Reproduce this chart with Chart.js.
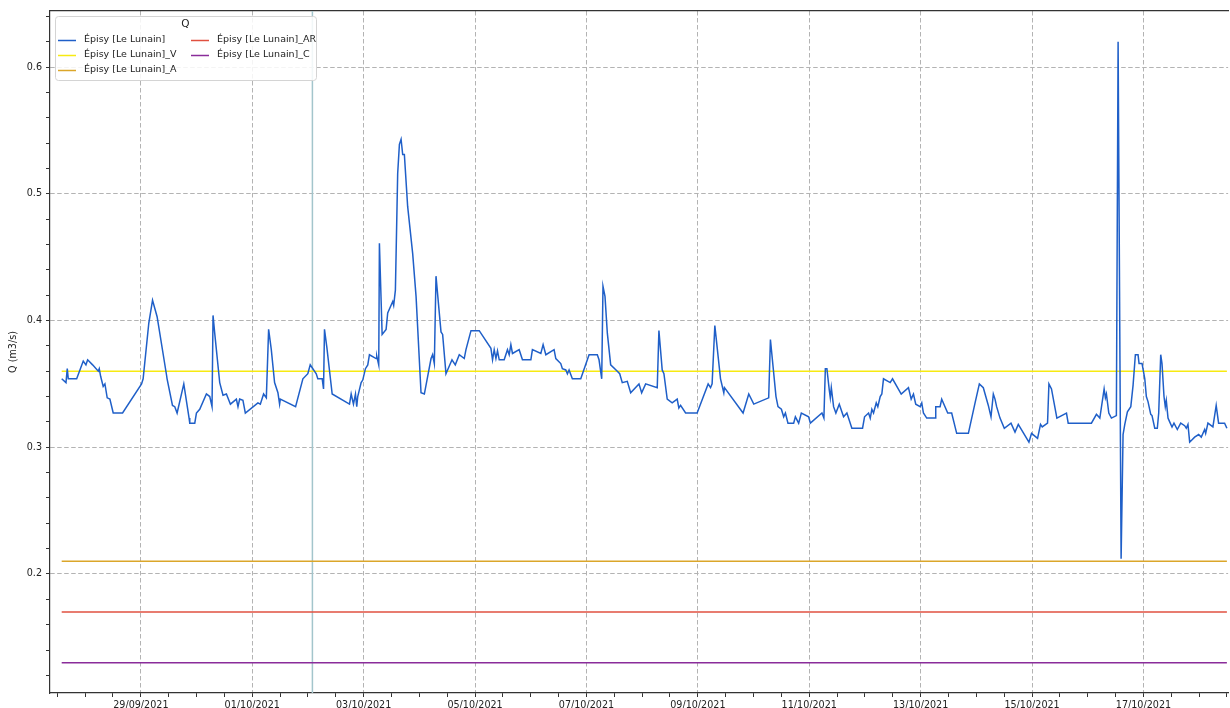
<!DOCTYPE html>
<html><head><meta charset="utf-8">
<script src="https://cdn.jsdelivr.net/npm/chart.js@4.4.1/dist/chart.umd.min.js"></script>
<style>html,body{margin:0;padding:0;background:#fff;overflow:hidden;width:1230px;height:708px}canvas{display:block}</style>
</head><body>
<canvas id="c" width="1230" height="716"></canvas>
<script>
// Time axis: days since 27/09/2021 00:00
const days = [0.579,0.656,0.679,0.697,0.848,0.966,1.014,1.045,1.134,1.235,1.253,1.278,1.324,1.355,1.396,1.444,1.504,1.672,2.013,2.041,2.143,2.210,2.292,2.461,2.471,2.568,2.609,2.651,2.771,2.866,2.878,2.968,2.998,3.057,3.177,3.237,3.278,3.296,3.326,3.416,3.475,3.536,3.608,3.715,3.744,3.774,3.833,3.876,4.102,4.145,4.204,4.253,4.294,4.342,4.401,4.461,4.491,4.504,4.778,4.909,4.998,5.041,5.149,5.177,5.256,5.280,5.297,5.339,5.435,5.746,5.776,5.817,5.853,5.876,5.894,5.955,5.984,6.032,6.074,6.104,6.224,6.235,6.271,6.283,6.332,6.403,6.432,6.522,6.539,6.570,6.611,6.642,6.672,6.701,6.731,6.790,6.880,6.941,7.030,7.090,7.210,7.238,7.269,7.299,7.358,7.389,7.418,7.478,7.586,7.645,7.717,7.806,7.837,7.927,8.075,8.285,8.314,8.344,8.375,8.403,8.434,8.523,8.582,8.613,8.643,8.672,8.792,8.851,9.002,9.030,9.181,9.222,9.271,9.419,9.450,9.539,9.568,9.629,9.658,9.688,9.747,9.898,10.047,10.195,10.226,10.274,10.297,10.333,10.375,10.435,10.554,10.597,10.643,10.733,10.794,10.943,10.991,11.063,11.271,11.301,11.360,11.391,11.450,11.539,11.629,11.659,11.690,11.780,11.987,12.185,12.228,12.256,12.305,12.407,12.466,12.478,12.812,12.914,13.004,13.272,13.303,13.403,13.439,13.500,13.541,13.572,13.618,13.720,13.751,13.810,13.858,13.989,14.020,14.228,14.263,14.289,14.317,14.360,14.378,14.396,14.437,14.478,14.539,14.616,14.676,14.765,14.957,14.993,15.065,15.095,15.124,15.154,15.203,15.231,15.274,15.303,15.333,15.453,15.495,15.651,15.781,15.830,15.871,15.912,15.991,16.020,16.050,16.109,16.260,16.271,16.349,16.378,16.486,16.557,16.647,16.857,16.977,17.054,17.125,17.215,17.263,17.305,17.335,17.364,17.425,17.502,17.622,17.694,17.753,17.944,17.991,18.099,18.152,18.183,18.278,18.303,18.349,18.446,18.618,18.649,19.066,19.156,19.217,19.294,19.317,19.335,19.378,19.425,19.514,19.545,19.599,19.634,19.665,19.712,19.773,19.814,19.855,19.903,19.921,19.975,20.024,20.052,20.082,20.131,20.154,20.203,20.249,20.274,20.310,20.333,20.369,20.392,20.410,20.441,20.471,20.513,20.548,20.608,20.669,20.740,20.769,20.799,20.830,20.919,20.991,21.038,21.099,21.117,21.158,21.247,21.306,21.349,21.457,21.498];
const flow = [0.354,0.351,0.362,0.354,0.354,0.368,0.365,0.369,0.365,0.360,0.362,0.356,0.348,0.350,0.339,0.338,0.327,0.327,0.350,0.354,0.398,0.416,0.403,0.357,0.354,0.333,0.332,0.327,0.350,0.323,0.319,0.319,0.327,0.330,0.342,0.340,0.332,0.404,0.390,0.351,0.341,0.342,0.334,0.338,0.332,0.338,0.337,0.327,0.335,0.334,0.342,0.339,0.393,0.377,0.351,0.343,0.334,0.338,0.332,0.354,0.358,0.365,0.358,0.354,0.354,0.346,0.393,0.379,0.342,0.334,0.342,0.334,0.342,0.332,0.340,0.351,0.353,0.362,0.365,0.373,0.370,0.372,0.365,0.461,0.389,0.393,0.406,0.415,0.412,0.424,0.516,0.539,0.543,0.531,0.531,0.490,0.453,0.419,0.343,0.342,0.370,0.373,0.366,0.435,0.406,0.391,0.389,0.358,0.369,0.365,0.373,0.370,0.377,0.392,0.392,0.378,0.369,0.377,0.370,0.376,0.369,0.369,0.377,0.373,0.381,0.374,0.377,0.369,0.369,0.377,0.374,0.381,0.373,0.377,0.370,0.366,0.362,0.361,0.358,0.361,0.354,0.354,0.373,0.373,0.369,0.354,0.427,0.419,0.390,0.365,0.360,0.358,0.351,0.352,0.343,0.350,0.343,0.350,0.347,0.392,0.361,0.358,0.338,0.335,0.338,0.331,0.333,0.327,0.327,0.350,0.347,0.350,0.396,0.354,0.343,0.347,0.327,0.342,0.334,0.339,0.385,0.340,0.332,0.330,0.324,0.327,0.319,0.319,0.324,0.319,0.327,0.324,0.319,0.327,0.323,0.362,0.362,0.345,0.339,0.347,0.332,0.327,0.334,0.324,0.327,0.315,0.315,0.324,0.327,0.323,0.330,0.327,0.335,0.332,0.340,0.342,0.354,0.351,0.354,0.342,0.347,0.338,0.342,0.334,0.332,0.335,0.327,0.323,0.323,0.332,0.332,0.338,0.327,0.327,0.311,0.311,0.335,0.350,0.347,0.333,0.324,0.342,0.338,0.332,0.323,0.315,0.319,0.312,0.318,0.304,0.311,0.307,0.318,0.316,0.319,0.350,0.346,0.323,0.327,0.319,0.319,0.326,0.323,0.346,0.339,0.342,0.327,0.323,0.325,0.620,0.212,0.310,0.318,0.328,0.332,0.349,0.373,0.373,0.366,0.366,0.354,0.340,0.336,0.326,0.325,0.315,0.315,0.327,0.373,0.366,0.340,0.332,0.337,0.323,0.320,0.316,0.319,0.314,0.319,0.317,0.315,0.318,0.304,0.308,0.310,0.308,0.314,0.311,0.319,0.316,0.333,0.319,0.319,0.315];
const seriesLabels = ['Épisy [Le Lunain]', 'Épisy [Le Lunain]_V', 'Épisy [Le Lunain]_A', 'Épisy [Le Lunain]_AR', 'Épisy [Le Lunain]_C'];
const thresholds = [0.36, 0.21, 0.17, 0.13];   // V, A, AR, C
const markerDay = 5.08;                          // vertical marker (02/10/2021 ~02:00)
const tickDays = [2, 4, 6, 8, 10, 12, 14, 16, 18, 20];
const tickLabels = ['29/09/2021','01/10/2021','03/10/2021','05/10/2021','07/10/2021','09/10/2021','11/10/2021','13/10/2021','15/10/2021','17/10/2021'];
const yTickValues = [0.2, 0.3, 0.4, 0.5, 0.6];
const yTickLabels = ['0.2', '0.3', '0.4', '0.5', '0.6'];
const xRange = [0.369, 21.52];
const yRange = [0.1061, 0.6442];

const colors = ['#1f5fc8', '#f7ea12', '#dba62a', '#e05040', '#8a2c9a'];
const FONT = '"DejaVu Sans", sans-serif';

const series = days.map((d, i) => ({x: d, y: flow[i]}));
const datasets = [{
  label: seriesLabels[0], data: series, borderColor: colors[0], borderWidth: 1.5,
  pointRadius: 0, tension: 0, fill: false
}];
thresholds.forEach((t, k) => {
  datasets.push({
    label: seriesLabels[k + 1],
    data: [{x: days[0], y: t}, {x: days[days.length - 1], y: t}],
    borderColor: colors[k + 1], borderWidth: 1.5, pointRadius: 0, fill: false
  });
});
datasets.push({
  label: '', data: [{x: markerDay, y: yRange[0]}, {x: markerDay, y: yRange[1]}],
  borderColor: '#a3c5cc', borderWidth: 1.5, pointRadius: 0, fill: false
});

const near = (a, b) => Math.abs(a - b) < 1e-6;

const boxLegend = {
  id: 'boxLegend',
  afterDraw(chart) {
    const {ctx, chartArea} = chart;
    const x0 = chartArea.left + 5, y0 = chartArea.top + 5, w = 261, h = 64;
    ctx.save();
    ctx.beginPath();
    if (ctx.roundRect) ctx.roundRect(x0 + 0.5, y0 + 0.5, w, h, 3); else ctx.rect(x0 + 0.5, y0 + 0.5, w, h);
    ctx.fillStyle = 'rgba(255,255,255,0.85)';
    ctx.fill();
    ctx.strokeStyle = '#d4d4d4';
    ctx.lineWidth = 1;
    ctx.stroke();
    ctx.fillStyle = '#222';
    ctx.textBaseline = 'middle';
    ctx.textAlign = 'center';
    ctx.font = '10.5px ' + FONT;
    ctx.fillText('Q', x0 + w / 2, y0 + 8);
    ctx.textAlign = 'left';
    ctx.font = '9.5px ' + FONT;
    const items = chart.data.datasets.filter(d => d.label);
    items.forEach((ds, i) => {
      const col = Math.floor(i / 3), row = i % 3;
      const lx = x0 + 3 + col * 133, ly = y0 + 24 + row * 15;
      ctx.strokeStyle = ds.borderColor;
      ctx.lineWidth = 1.5;
      ctx.beginPath(); ctx.moveTo(lx, ly + 0.5); ctx.lineTo(lx + 18, ly + 0.5); ctx.stroke();
      ctx.fillStyle = '#222';
      ctx.fillText(ds.label, lx + 26, ly);
    });
    ctx.restore();
  }
};

new Chart(document.getElementById('c'), {
  type: 'line',
  data: {datasets},
  plugins: [boxLegend],
  options: {
    responsive: false, animation: false, devicePixelRatio: 1,
    layout: {padding: {top: 11, right: 0, bottom: 0, left: 0}},
    plugins: {legend: {display: false}, tooltip: {enabled: false}},
    scales: {
      x: {
        type: 'linear', position: 'bottom', min: xRange[0], max: xRange[1],
        afterFit: s => { s.height = 23; },
        ticks: {
          stepSize: 0.5, includeBounds: false, autoSkip: false, maxRotation: 0, minRotation: 0,
          padding: 3, color: '#222', font: {family: FONT, size: 9.6},
          callback: v => { const i = tickDays.findIndex(t => near(t, v)); return i >= 0 ? tickLabels[i] : ''; }
        },
        grid: {
          color: c => (c.tick && tickDays.some(t => near(t, c.tick.value))) ? '#b3b3b3' : 'rgba(0,0,0,0)',
          tickColor: '#333', tickLength: 4, lineWidth: 1
        },
        border: {color: '#333', width: 1.2, dash: [4.5, 2.5]}
      },
      x2: {
        type: 'linear', position: 'top', min: xRange[0], max: xRange[1],
        ticks: {display: false},
        grid: {drawOnChartArea: false, drawTicks: false},
        border: {color: '#333', width: 1.2}
      },
      y: {
        type: 'linear', min: yRange[0], max: yRange[1],
        afterFit: s => { s.width = 50; },
        ticks: {
          stepSize: 0.02, includeBounds: false, autoSkip: false, padding: 4,
          color: '#222', font: {family: FONT, size: 9.6},
          callback: v => { const i = yTickValues.findIndex(t => near(t, v)); return i >= 0 ? yTickLabels[i] : ''; }
        },
        grid: {
          color: c => (c.tick && yTickValues.some(t => near(t, c.tick.value))) ? '#b3b3b3' : 'rgba(0,0,0,0)',
          tickColor: '#333', tickLength: 4, lineWidth: 1
        },
        border: {color: '#333', width: 1.2, dash: [4.5, 2.5]},
        title: {display: true, text: 'Q (m3/s)', color: '#222', font: {family: FONT, size: 9.6}, padding: {top: 8, bottom: 0}}
      }
    }
  }
});
</script>
</body></html>
